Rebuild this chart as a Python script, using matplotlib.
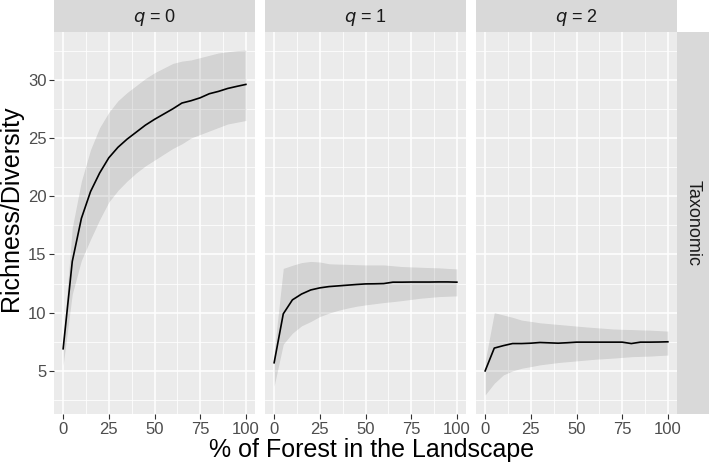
import numpy as np
import matplotlib.pyplot as plt

plt.rcParams['font.family'] = ['Liberation Sans', 'DejaVu Sans']

forest = [0, 5, 10, 15, 20, 25, 30, 35, 40, 45, 50, 55, 60, 65, 70, 75, 80, 85, 90, 95, 100]

# q = 0
q0_mean = [6.9, 14.4, 18.1, 20.4, 22.0, 23.3, 24.2, 24.9, 25.5, 26.1, 26.6, 27.05, 27.5, 28.0,
           28.2, 28.45, 28.8, 29.0, 29.25, 29.43, 29.6]
q0_low = [5.5, 11.6, 14.5, 16.3, 18.0, 19.5, 20.5, 21.3, 22.0, 22.6, 23.1, 23.6, 24.1, 24.5,
          25.0, 25.3, 25.6, 25.9, 26.2, 26.35, 26.5]
q0_up = [7.5, 17.3, 21.3, 24.0, 25.9, 27.2, 28.2, 28.9, 29.5, 30.1, 30.6, 31.0, 31.4, 31.6,
         31.7, 31.9, 32.1, 32.3, 32.4, 32.5, 32.55]

# q = 1
q1_mean = [5.7, 9.9, 11.1, 11.6, 11.95, 12.13, 12.24, 12.3, 12.36, 12.42, 12.47, 12.48, 12.5,
           12.62, 12.62, 12.63, 12.63, 12.63, 12.64, 12.64, 12.62]
q1_low = [3.7, 7.3, 8.24, 8.87, 9.24, 9.67, 9.96, 10.2, 10.39, 10.55, 10.67, 10.77, 10.87,
          10.95, 11.04, 11.14, 11.24, 11.31, 11.38, 11.41, 11.44]
q1_up = [6.6, 13.8, 14.07, 14.3, 14.4, 14.35, 14.2, 14.17, 14.15, 14.12, 14.1, 14.1, 14.1,
         14.03, 13.96, 13.93, 13.9, 13.87, 13.85, 13.8, 13.76]

# q = 2
q2_mean = [5.0, 6.96, 7.17, 7.35, 7.35, 7.38, 7.44, 7.41, 7.38, 7.42, 7.47, 7.47, 7.47, 7.47,
           7.47, 7.47, 7.35, 7.47, 7.47, 7.48, 7.5]
q2_low = [2.94, 3.94, 4.66, 5.0, 5.23, 5.37, 5.52, 5.62, 5.72, 5.79, 5.86, 5.93, 6.0, 6.05,
          6.1, 6.16, 6.22, 6.25, 6.27, 6.32, 6.36]
q2_up = [5.8, 10.0, 9.8, 9.6, 9.36, 9.25, 9.13, 9.06, 8.99, 8.92, 8.85, 8.78, 8.72, 8.66,
         8.6, 8.57, 8.55, 8.52, 8.5, 8.46, 8.42]

panels = [("0", q0_mean, q0_low, q0_up),
          ("1", q1_mean, q1_low, q1_up),
          ("2", q2_mean, q2_low, q2_up)]

x_ticks = [0, 25, 50, 75, 100]
y_ticks = [5, 10, 15, 20, 25, 30]

W, H = 709, 466
fig = plt.figure(figsize=(W / 100, H / 100), dpi=100)

lefts = [54, 265, 476]
pw, top, bottom = 201, 32, 414
ph = bottom - top

for i, (q, mean, low, up) in enumerate(panels):
    ax = fig.add_axes([lefts[i] / W, (H - bottom) / H, pw / W, ph / H])
    ax.set_facecolor('#EBEBEB')
    ax.set_xlim(-5, 105)
    ax.set_ylim(1.3, 34.1)
    ax.set_xticks(x_ticks)
    ax.set_yticks(y_ticks)
    ax.set_xticks([12.5, 37.5, 62.5, 87.5], minor=True)
    ax.set_yticks([2.5, 7.5, 12.5, 17.5, 22.5, 27.5, 32.5], minor=True)
    ax.grid(which='major', color='white', linewidth=1.1)
    ax.grid(which='minor', color='white', linewidth=0.55)
    ax.set_axisbelow(True)
    for s in ax.spines.values():
        s.set_visible(False)
    ax.tick_params(which='minor', length=0)
    ax.tick_params(which='major', length=3.5, width=0.8, color='#333333',
                   labelsize=12, labelcolor='#4D4D4D', pad=2)
    if i > 0:
        ax.tick_params(axis='y', which='major', length=0, labelleft=False)

    ax.fill_between(forest, low, up, color='black', alpha=0.1, linewidth=0)
    ax.plot(forest, mean, color='black', linewidth=1.2)

    strip = fig.add_axes([lefts[i] / W, (H - top) / H, pw / W, top / H])
    strip.set_facecolor('#D9D9D9')
    strip.set_xticks([])
    strip.set_yticks([])
    for s in strip.spines.values():
        s.set_visible(False)
    strip.text(0.5, 0.45, r'$q$ = ' + q, ha='center', va='center', fontsize=13,
               color='#1A1A1A', transform=strip.transAxes)

rs = fig.add_axes([677 / W, (H - bottom) / H, 32 / W, ph / H])
rs.set_facecolor('#D9D9D9')
rs.set_xticks([])
rs.set_yticks([])
for s in rs.spines.values():
    s.set_visible(False)
rs.text(0.5, 0.5, 'Taxonomic', rotation=-90, ha='center', va='center', fontsize=13,
        color='#1A1A1A', transform=rs.transAxes)

fig.text(372 / W, 1 - 457 / H, '% of Forest in the Landscape', ha='center', va='baseline',
         fontsize=18)
fig.text(11 / W, 1 - 208 / H, 'Richness/Diversity', ha='center', va='center',
         rotation=90, fontsize=18)

fig.savefig('out.png', dpi=100)
